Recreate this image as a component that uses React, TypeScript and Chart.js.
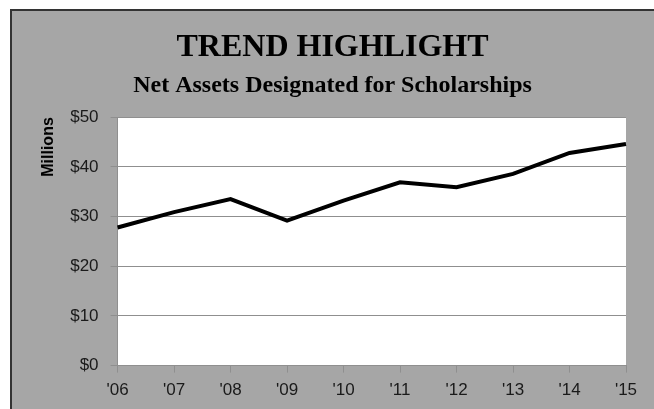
import React, { useEffect, useRef } from "react";
import { Chart, registerables } from "chart.js";

Chart.register(...registerables);

const years = ["'06", "'07", "'08", "'09", "'10", "'11", "'12", "'13", "'14", "'15"];
const netAssets = [27.8, 30.9, 33.5, 29.2, 33.2, 36.9, 35.9, 38.6, 42.8, 44.6];
const titleText = "TREND HIGHLIGHT";
const subtitleText = "Net Assets Designated for Scholarships";
const yAxisTitle = "Millions";

const GRID = "#8f8f8f";
const TEXT = "#1a1a1a";

const plotBg = {
  id: "plotBg",
  beforeDraw(chart: any) {
    const { ctx, chartArea } = chart;
    if (!chartArea) return;
    ctx.save();
    ctx.fillStyle = "#ffffff";
    ctx.fillRect(chartArea.left, chartArea.top, chartArea.right - chartArea.left, chartArea.bottom - chartArea.top);
    ctx.restore();
  },
};

export default function App() {
  const ref = useRef<HTMLCanvasElement | null>(null);
  useEffect(() => {
    if (!ref.current) return;
    const chart = new Chart(ref.current, {
      type: "line",
      data: {
        labels: years,
        datasets: [
          {
            data: netAssets,
            borderColor: "#000000",
            borderWidth: 4,
            pointRadius: 0,
            tension: 0,
            fill: false,
          },
        ],
      },
      options: {
        responsive: false,
        animation: false,
        layout: { padding: { left: 27, right: 28, top: 0, bottom: 0 } },
        plugins: {
          legend: { display: false },
          tooltip: { enabled: false },
          title: {
            display: true,
            text: titleText,
            color: "#000000",
            font: { family: "'Liberation Serif', serif", size: 32, weight: "bold" },
            padding: { top: 18, bottom: 4 },
          },
          subtitle: {
            display: true,
            text: subtitleText,
            color: "#000000",
            font: { family: "'Liberation Serif', serif", size: 24, weight: "bold" },
            padding: { top: 0, bottom: 17 },
          },
        },
        scales: {
          x: {
            offset: false,
            grid: { display: true, drawOnChartArea: false, drawTicks: true, tickLength: 7, color: GRID },
            border: { display: true, color: GRID, width: 1 },
            ticks: {
              color: TEXT,
              padding: 8,
              maxRotation: 0,
              font: { family: "'Liberation Sans', sans-serif", size: 17 },
            },
          },
          y: {
            min: 0,
            max: 50,
            grid: { display: true, drawTicks: true, tickLength: 7, color: GRID },
            border: { display: true, color: GRID, width: 1 },
            ticks: {
              stepSize: 10,
              color: TEXT,
              padding: 12,
              font: { family: "'Liberation Sans', sans-serif", size: 17 },
              callback: (v: any) => "$" + v,
            },
            title: {
              display: true,
              text: yAxisTitle,
              color: "#000000",
              align: "end",
              padding: { top: 0, bottom: 0 },
              font: { family: "'Liberation Sans', sans-serif", size: 16, weight: "bold" },
            },
          },
        },
      },
      plugins: [plotBg],
    });
    return () => chart.destroy();
  }, []);

  return (
    <div
      style={{
        position: "absolute",
        left: 10,
        top: 9,
        width: 642,
        height: 398,
        background: "#a6a6a6",
        borderTop: "2px solid #333",
        borderLeft: "2px solid #333",
        overflow: "hidden",
      }}
    >
      <canvas ref={ref} width={642} height={398} style={{ display: "block" }} />
    </div>
  );
}
